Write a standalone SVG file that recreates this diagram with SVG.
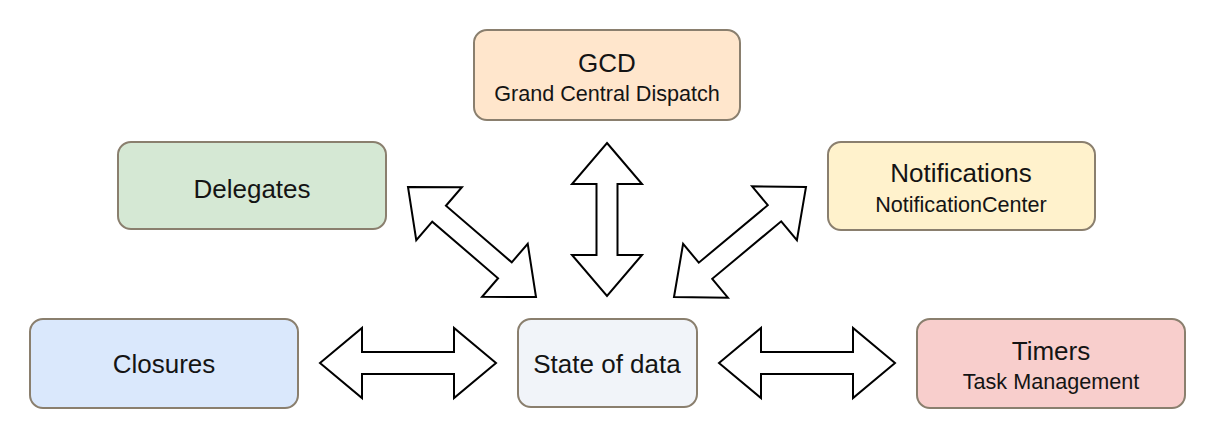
<svg xmlns="http://www.w3.org/2000/svg" width="1212" height="438" viewBox="0 0 1212 438">
  <style>
    .box { stroke: #8a7f6e; stroke-width: 2; }
    .title { font-family: "Liberation Sans", Arial, sans-serif; font-size: 26px; fill: #141414; text-anchor: middle; }
    .sub { font-family: "Liberation Sans", Arial, sans-serif; font-size: 21.6px; fill: #141414; text-anchor: middle; }
    .arrow { fill: #ffffff; stroke: #000000; stroke-width: 2; stroke-linejoin: miter; }
  </style>
  <rect width="1212" height="438" fill="#ffffff"/>

  <g id="connectors">
    <!-- Closures <-> State -->
    <path class="arrow" transform="translate(408,363)" d="M-88,0 L-46,-35 L-46,-11 L46,-11 L46,-35 L88,0 L46,35 L46,11 L-46,11 L-46,35 Z"/>
    <!-- State <-> Timers -->
    <path class="arrow" transform="translate(807,363)" d="M-88,0 L-46,-35 L-46,-11 L46,-11 L46,-35 L88,0 L46,35 L46,11 L-46,11 L-46,35 Z"/>
    <!-- GCD <-> State -->
    <path class="arrow" transform="translate(607,219.5) rotate(90)" d="M-76.5,0 L-35.5,-35 L-35.5,-10.5 L35.5,-10.5 L35.5,-35 L76.5,0 L35.5,35 L35.5,10.5 L-35.5,10.5 L-35.5,35 Z"/>
    <!-- Delegates <-> State -->
    <path class="arrow" transform="translate(472,242) rotate(40.68)" d="M-84.4,0 L-43.4,-35 L-43.4,-10.5 L43.4,-10.5 L43.4,-35 L84.4,0 L43.4,35 L43.4,10.5 L-43.4,10.5 L-43.4,35 Z"/>
    <!-- Notifications <-> State -->
    <path class="arrow" transform="translate(740,242) rotate(-39.8)" d="M-85.9,0 L-44.9,-35 L-44.9,-10.5 L44.9,-10.5 L44.9,-35 L85.9,0 L44.9,35 L44.9,10.5 L-44.9,10.5 L-44.9,35 Z"/>
  </g>

  <g id="gcd">
    <rect class="box" x="474" y="30" width="266" height="90" rx="13" fill="#ffe6cc"/>
    <text class="title" x="607" y="72">GCD</text>
    <text class="sub" x="607" y="101">Grand Central Dispatch</text>
  </g>

  <g id="delegates">
    <rect class="box" x="118" y="142" width="268" height="87" rx="13" fill="#d5e8d4"/>
    <text class="title" x="252" y="198">Delegates</text>
  </g>

  <g id="notifications">
    <rect class="box" x="828" y="142" width="267" height="88" rx="13" fill="#fff2cc"/>
    <text class="title" x="961" y="182">Notifications</text>
    <text class="sub" x="961" y="212">NotificationCenter</text>
  </g>

  <g id="closures">
    <rect class="box" x="30" y="319" width="268" height="89" rx="13" fill="#dae8fc"/>
    <text class="title" x="164" y="373">Closures</text>
  </g>

  <g id="state">
    <rect class="box" x="518" y="319" width="179" height="88" rx="13" fill="#f1f4f9"/>
    <text class="title" x="607" y="373">State of data</text>
  </g>

  <g id="timers">
    <rect class="box" x="917" y="319" width="268" height="89" rx="13" fill="#f8cecc"/>
    <text class="title" x="1051" y="360">Timers</text>
    <text class="sub" x="1051" y="389">Task Management</text>
  </g>
</svg>
